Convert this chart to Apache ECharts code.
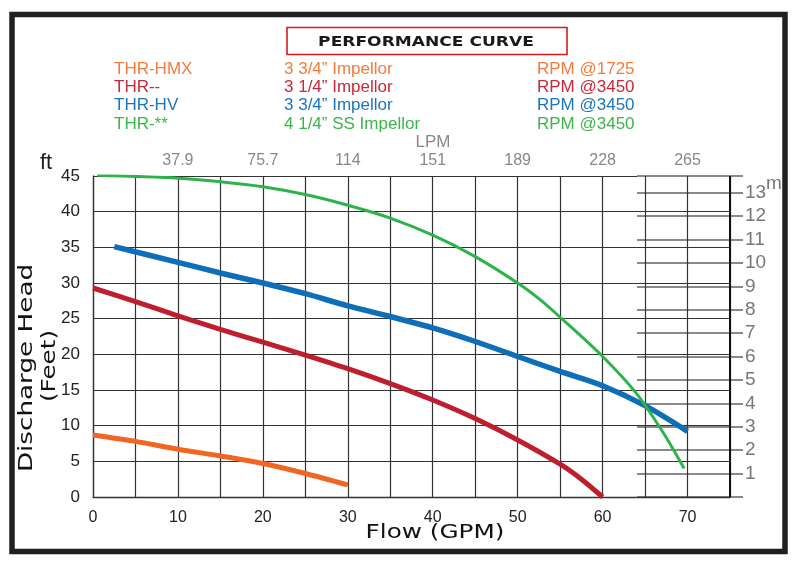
<!DOCTYPE html>
<html>
<head>
<meta charset="utf-8">
<script src="https://cdn.jsdelivr.net/npm/echarts@6/dist/echarts.min.js"></script>
<style>html,body{margin:0;padding:0;background:#fff}#c{width:800px;height:567px}</style>
</head>
<body>
<div id="c"></div>
<script>
// ---- data ----
const lpmLabels = ['37.9', '75.7', '114', '151', '189', '228', '265'];

const hmxFlow = [0, 5, 10, 15, 20, 25, 30];
const hmxHead = [8.7, 7.8, 6.7, 5.75, 4.7, 3.3, 1.7];

const thrFlow = [0, 5, 10, 15, 20, 25, 30, 35, 40, 45, 50, 55, 57.5, 60];
const thrHead = [29.3, 27.4, 25.4, 23.5, 21.7, 19.9, 18.0, 15.9, 13.6, 11.0, 8.0, 4.6, 2.5, 0];

const hvFlow = [2.5, 10, 15, 20, 25, 30, 35, 40, 45, 50, 55, 60, 65, 70];
const hvHead = [35.1, 32.9, 31.4, 30.0, 28.5, 26.8, 25.3, 23.7, 21.8, 19.7, 17.6, 15.6, 12.8, 9.2];

const ssFlow = [0.5, 10, 15, 20, 25, 30, 35, 40, 45, 50, 52.5, 55, 60, 64, 67.2, 69.6];
const ssHead = [45.1, 44.7, 44.2, 43.5, 42.4, 40.9, 39.1, 36.7, 33.7, 30.0, 27.8, 25.2, 19.7, 14.5, 8.9, 4.0];

const legendModels = ['THR-HMX', 'THR--', 'THR-HV', 'THR-**'];
const legendImpellers = ['3 3/4\u201D Impellor', '3 1/4\u201D Impellor', '3 3/4\u201D Impellor', '4 1/4\u201D SS Impellor'];
const legendRpm = ['RPM @1725', 'RPM @3450', 'RPM @3450', 'RPM @3450'];

const FT_PER_M = 3.28084;
// ---------------------------------------

const curveColors = ['#F26522', '#BE1E2D', '#0E6EB8', '#2DB34A'];
const textColors = ['#F47B3A', '#C8283A', '#1B75BC', '#39B54A'];
const widths = [5, 5, 5.5, 3];
const flows = [hmxFlow, thrFlow, hvFlow, ssFlow];
const heads = [hmxHead, thrHead, hvHead, ssHead];

const pairs = (xs, ys) => xs.map((x, i) => [x, ys[i]]);

const graphics = [
  { type: 'rect', shape: { x: 12, y: 14.5, width: 773, height: 537 }, style: { fill: 'none', stroke: '#231f20', lineWidth: 5.5 }, z: 100 },
  { type: 'rect', shape: { x: 287, y: 27.5, width: 280, height: 27 }, style: { fill: 'none', stroke: '#D71920', lineWidth: 1.6 } },
  { type: 'text', x: 426, y: 42, scaleX: 1.22, style: { text: 'PERFORMANCE CURVE', font: 'bold 14px "DejaVu Sans"', fill: '#1a1a1a', align: 'center', verticalAlign: 'middle' } },
  { type: 'text', x: 433, y: 142, style: { text: 'LPM', font: '17px "Liberation Sans"', fill: '#888', align: 'center', verticalAlign: 'middle' } },
  { type: 'text', x: 46, y: 163, style: { text: 'ft', font: '22px "Liberation Sans"', fill: '#222', align: 'center', verticalAlign: 'middle' } },
  { type: 'text', x: 774, y: 184, style: { text: 'm', font: '19px "Liberation Sans"', fill: '#777', align: 'center', verticalAlign: 'middle' } },
  { type: 'text', x: 435, y: 533, scaleX: 1.3, style: { text: 'Flow (GPM)', font: '19px "DejaVu Sans"', fill: '#111', align: 'center', verticalAlign: 'middle' } },
  { type: 'text', x: 27, y: 368, rotation: Math.PI / 2, scaleX: 1.38, style: { text: 'Discharge Head', font: '19px "DejaVu Sans"', fill: '#111', align: 'center', verticalAlign: 'middle' } },
  { type: 'text', x: 50, y: 366, rotation: Math.PI / 2, scaleX: 1.3, style: { text: '(Feet)', font: '19px "DejaVu Sans"', fill: '#111', align: 'center', verticalAlign: 'middle' } }
];
const rowY = [69, 87, 105, 124];
for (let i = 0; i < 4; i++) {
  const f = '17px "Liberation Sans"';
  graphics.push({ type: 'text', x: 114, y: rowY[i], style: { text: legendModels[i], font: f, fill: textColors[i], verticalAlign: 'middle' } });
  graphics.push({ type: 'text', x: 284, y: rowY[i], style: { text: legendImpellers[i], font: f, fill: textColors[i], verticalAlign: 'middle' } });
  graphics.push({ type: 'text', x: 537, y: rowY[i], style: { text: legendRpm[i], font: f, fill: textColors[i], verticalAlign: 'middle' } });
}

const series = flows.map((fl, i) => ({
  type: 'line',
  data: pairs(fl, heads[i]),
  smooth: 0.3,
  showSymbol: false,
  lineStyle: { color: curveColors[i], width: widths[i], cap: 'butt' },
  z: 10 + i
}));
series.push({
  type: 'line', data: [], xAxisIndex: 0, yAxisIndex: 0,
  markLine: { silent: true, symbol: 'none', label: { show: false }, lineStyle: { color: '#111', width: 2, type: 'solid' }, data: [{ xAxis: 75 }] }
});

const chart = echarts.init(document.getElementById('c'), null, { renderer: 'canvas' });
chart.setOption({
  animation: false,
  backgroundColor: '#fff',
  grid: [
    { left: 93, right: 70, top: 176, bottom: 70 },
    { left: 637, right: 57, top: 176, bottom: 70 }
  ],
  xAxis: [
    {
      type: 'value', gridIndex: 0, min: 0, max: 75, interval: 5, position: 'bottom',
      axisLine: { show: true, lineStyle: { color: '#333', width: 1.3 } },
      axisTick: { show: false },
      axisLabel: { margin: 13, color: '#222', fontSize: 16, fontFamily: 'Liberation Sans',
        formatter: v => (v % 10 === 0 && v <= 70) ? String(v) : '' },
      splitLine: { show: true, lineStyle: { color: '#333', width: 1.2 } }
    },
    {
      type: 'value', gridIndex: 0, min: 0, max: 75, interval: 10, position: 'top',
      axisLine: { show: false }, axisTick: { show: false }, splitLine: { show: false },
      axisLabel: { margin: 7, color: '#888', fontSize: 16, fontFamily: 'Liberation Sans',
        formatter: v => (v > 0 && v <= 70) ? lpmLabels[v / 10 - 1] : '' }
    },
    {
      type: 'value', gridIndex: 1, min: 0, max: 1, show: false
    }
  ],
  yAxis: [
    {
      type: 'value', gridIndex: 0, min: 0, max: 45, interval: 5, position: 'left',
      axisLine: { show: true, lineStyle: { color: '#333', width: 1.3 } },
      axisTick: { show: false },
      axisLabel: { margin: 13, color: '#222', fontSize: 17, fontFamily: 'Liberation Sans' },
      splitLine: { show: true, lineStyle: { color: '#333', width: 1.2 } }
    },
    {
      type: 'value', gridIndex: 1, min: 0, max: 45 / FT_PER_M, interval: 1, position: 'right',
      axisLine: { show: false },
      axisTick: { show: false },
      axisLabel: { margin: 2, color: '#777', fontSize: 19, fontFamily: 'Liberation Sans',
        formatter: v => v === 0 ? '' : String(v) },
      splitLine: { show: true, lineStyle: { color: '#8a8a8a', width: 2 } }
    }
  ],
  series: series,
  graphic: graphics
});
</script>
</body>
</html>
